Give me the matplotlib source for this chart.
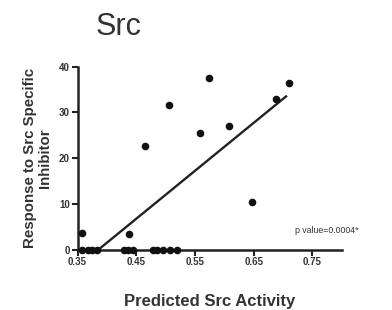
import matplotlib
matplotlib.use('Agg')
import matplotlib.pyplot as plt
import numpy as np

# points
activity = [0.358, 0.505, 0.465, 0.574, 0.558, 0.607, 0.647, 0.688, 0.710, 0.438,
            0.358, 0.367, 0.374, 0.383, 0.429, 0.436, 0.445,
            0.478, 0.485, 0.496, 0.507, 0.519]
response = [3.6, 31.7, 22.6, 37.5, 25.6, 27.1, 10.4, 33.0, 36.5, 3.4,
            0, 0, 0, 0, 0, 0, 0,
            0, 0, 0, 0, 0]

# fitted line end points
fit_x = [0.385, 0.705]
fit_y = [0.0, 33.5]

xticks = [0.35, 0.45, 0.55, 0.65, 0.75]
yticks = [0, 10, 20, 30, 40]

plt.rcParams['font.family'] = ['Liberation Sans', 'DejaVu Sans']
txt = '#333333'

fig = plt.figure(figsize=(3.92, 3.10), dpi=100)
ax = fig.add_axes([0.198, 0.194, 0.674, 0.591])

ax.scatter(activity, response, s=20, color='#111111', zorder=3, clip_on=False)
ax.plot(fit_x, fit_y, color='#222222', lw=1.7)

ax.set_xlim(0.35, 0.80)
ax.set_ylim(0, 40)
ax.set_xticks(xticks)
ax.set_xticklabels(['%.2f' % v for v in xticks])
ax.set_yticks(yticks)

for s in ['top', 'right']:
	ax.spines[s].set_visible(False)
for s in ['left', 'bottom']:
	ax.spines[s].set_linewidth(1.8)
	ax.spines[s].set_color('#222222')
ax.tick_params(direction='out', length=4, width=1.5, colors='#222222',
			   labelsize=7, labelcolor=txt, pad=1.5)
for lab in ax.get_xticklabels() + ax.get_yticklabels():
	lab.set_fontweight('bold')

ax.set_xlabel('Predicted Src Activity', fontsize=12, fontweight='bold',
			  color=txt, labelpad=19)
ax.set_ylabel('Response to Src Specific\nInhibitor', fontsize=10.8,
			  fontweight='bold', color=txt, labelpad=5, linespacing=1.15)

fig.text(0.245, 0.96, 'Src', fontsize=22, color=txt, va='top', ha='left')
fig.text(0.752, 0.258, 'p value=0.0004*', fontsize=6.3, color=txt,
		 va='center', ha='left')

fig.savefig('out.png', dpi=100)
